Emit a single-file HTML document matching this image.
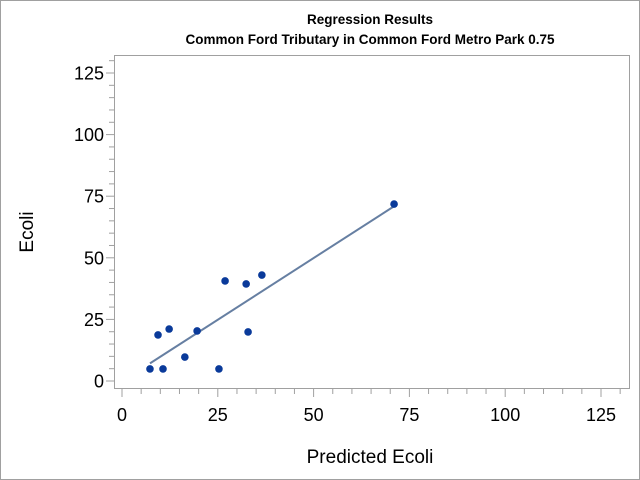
<!DOCTYPE html>
<html><head><meta charset="utf-8"><style>
body{margin:0;background:#fff;}
svg{display:block;font-family:"Liberation Sans",sans-serif;}
</style></head><body>
<svg id="c" width="640" height="480">
<rect x="0.5" y="0.5" width="639" height="479" fill="#fff" stroke="#a0a0a0"/>
<text x="370" y="24" text-anchor="middle" font-size="13.5" font-weight="bold">Regression Results</text>
<text x="370" y="44" text-anchor="middle" font-size="13.5" font-weight="bold">Common Ford Tributary in Common Ford Metro Park 0.75</text>
<rect x="114.5" y="55.5" width="515" height="333" fill="none" stroke="#a0a0a0"/>
<text x="370" y="463" text-anchor="middle" font-size="19">Predicted Ecoli</text>
<text transform="translate(33,232) rotate(-90)" text-anchor="middle" font-size="19">Ecoli</text>
<g id="g"></g>
</svg>
<script>
const xs=[7.3,9.4,10.7,12.3,16.4,19.6,25.3,26.9,32.4,32.9,36.5,71.0];
const ys=[4.9,18.7,4.9,21.1,9.7,20.3,4.9,40.6,39.4,19.9,43.0,71.8];
const tickVals=[0,25,50,75,100,125];
const X=v=>122+v*3.832, Y=v=>381-v*2.464;
const g=document.getElementById('g');
const NS='http://www.w3.org/2000/svg';
function mk(t,a){const e=document.createElementNS(NS,t);for(const k in a)e.setAttribute(k,a[k]);g.appendChild(e);return e;}
for(let v=0;v<=130;v+=5){
 const maj=v%25===0;
 let e=mk('line',{x1:X(v),x2:X(v),y1:389,y2:389+(maj?8:5),stroke:'#a0a0a0'});
 
 
 e=mk('line',{y1:Y(v),y2:Y(v),x1:114,x2:114-(maj?8:5),stroke:'#a0a0a0'});
 
 
}
tickVals.forEach(v=>{
 let t=mk('text',{x:X(v),y:421,'text-anchor':'middle','font-size':18});t.textContent=v;
 
 
 t=mk('text',{x:104,y:Y(v)+6.5,'text-anchor':'end','font-size':18});t.textContent=v;
 
 
});
const n=xs.length,mx=xs.reduce((a,b)=>a+b)/n,my=ys.reduce((a,b)=>a+b)/n;
let sxy=0,sxx=0;for(let i=0;i<n;i++){sxy+=(xs[i]-mx)*(ys[i]-my);sxx+=(xs[i]-mx)**2;}
const b=sxy/sxx,a=my-b*mx,x0=Math.min(...xs),x1=Math.max(...xs);
const ln=mk('line',{x1:X(x0),y1:Y(a+b*x0),x2:X(x1),y2:Y(a+b*x1),stroke:'#667fa2','stroke-width':2});


xs.forEach((v,i)=>{
 const c=mk('circle',{cx:X(v),cy:Y(ys[i]),r:3.8,fill:'#0a3a9a'});
 
 
});
</script>
</body></html>
